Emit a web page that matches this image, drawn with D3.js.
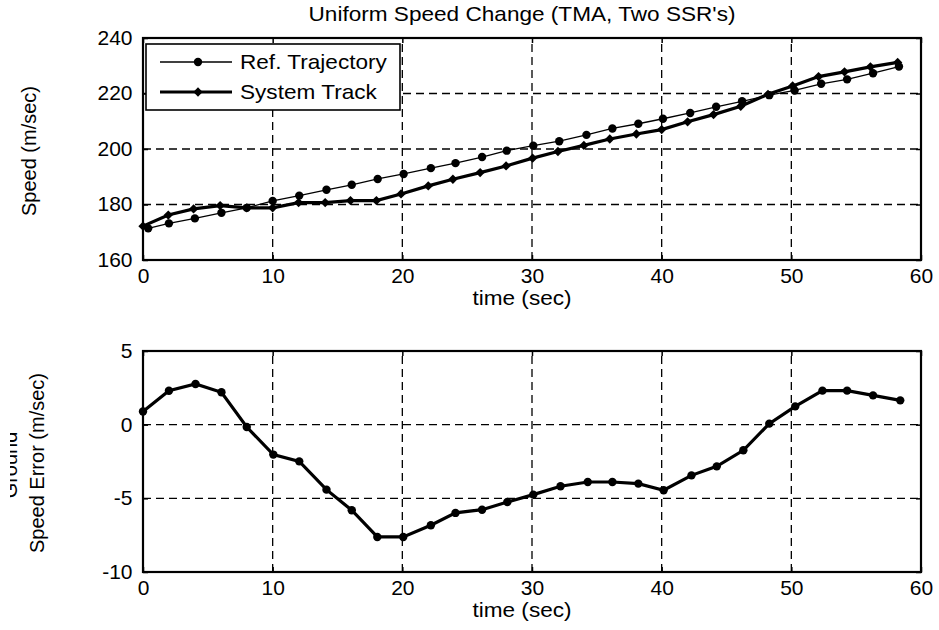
<!DOCTYPE html>
<meta charset="utf-8">
<style>
body { margin: 0; background: #fff; }
text { font-family: 'Liberation Sans', Arial, sans-serif; font-size: 20px; fill: #000; }
.axis path { display: none; }
.axis line { stroke: #000; stroke-width: 1.5px; }
.grid line { stroke: #000; stroke-width: 1.3px; stroke-dasharray: 8,5; }
.frame { fill: none; stroke: #000; stroke-width: 2.2px; }
</style>
<svg width="939" height="630"></svg>
<script src="https://cdn.jsdelivr.net/npm/d3@7"></script>
<script>
// values
var timeTicks = [0, 10, 20, 30, 40, 50, 60];
var speedTicks = [160, 180, 200, 220, 240];
var errorTicks = [-10, -5, 0, 5];

var refTime  = [0.4, 2.0, 4.0, 6.05, 8.0, 10.0, 12.05, 14.15, 16.1, 18.1, 20.1, 22.2, 24.1, 26.15, 28.05,
                30.1, 32.1, 34.2, 36.2, 38.2, 40.1, 42.2, 44.2, 46.2, 48.3, 50.25, 52.3, 54.3, 56.3, 58.3];
var refSpeed = [171.4, 173.2, 175.0, 177.0, 178.8, 181.3, 183.2, 185.3, 187.1, 189.2, 191.0, 193.1, 194.9, 197.1, 199.4,
                201.2, 202.8, 205.1, 207.4, 209.1, 210.9, 213.0, 215.2, 217.2, 219.4, 221.1, 223.5, 225.1, 227.3, 229.7];

var sysTime  = [0, 1.95, 3.9, 5.95, 8.0, 10.0, 12.0, 14.05, 16.0, 18.0, 19.9, 22.0, 23.9, 26.0, 28.0,
                30.05, 32.0, 34.0, 36.0, 38.05, 40.0, 42.0, 44.0, 46.1, 48.2, 50.1, 52.1, 54.1, 56.1, 58.2];
var sysSpeed = [172.2, 176.2, 178.4, 179.6, 178.8, 178.8, 180.7, 180.7, 181.4, 181.4, 183.8, 186.7, 189.1, 191.5, 193.9,
                196.7, 199.1, 201.3, 203.6, 205.4, 207.0, 209.8, 212.4, 215.4, 219.7, 222.7, 226.1, 227.8, 229.6, 231.2];

var errTime  = [0, 2.0, 4.05, 6.05, 8.0, 10.05, 12.05, 14.15, 16.1, 18.07, 20.07, 22.2, 24.1, 26.15, 28.1,
                30.1, 32.2, 34.3, 36.2, 38.2, 40.15, 42.3, 44.25, 46.3, 48.3, 50.3, 52.4, 54.3, 56.3, 58.4];
var errValue = [0.9, 2.3, 2.76, 2.2, -0.16, -2.03, -2.49, -4.41, -5.81, -7.62, -7.62, -6.83, -5.99, -5.77, -5.25,
                -4.75, -4.18, -3.89, -3.89, -4.0, -4.45, -3.44, -2.83, -1.74, 0.07, 1.24, 2.31, 2.31, 1.99, 1.65];

var svg = d3.select("svg");

var x = d3.scaleLinear().domain([0, 60]).range([143, 921]);
var yTop = d3.scaleLinear().domain([160, 240]).range([260, 38]);
var yBot = d3.scaleLinear().domain([-10, 5]).range([572, 351]);

var plain = function(d) { return String(d); };  // keep "-5" with a hyphen, as in the picture

function zip(xs, ys) { return xs.map(function(t, i) { return [t, ys[i]]; }); }

function panel(y, yTicks) {
  var g = svg.append("g");
  var x0 = x.range()[0], x1 = x.range()[1], y0 = y.range()[0], y1 = y.range()[1];

  // dashed grid
  var grid = g.append("g").attr("class", "grid");
  grid.selectAll(".v").data(timeTicks.slice(1, -1)).enter().append("line")
      .attr("x1", x).attr("x2", x).attr("y1", y0).attr("y2", y1);
  grid.selectAll(".h").data(yTicks.slice(1, -1)).enter().append("line")
      .attr("x1", x0).attr("x2", x1).attr("y1", y).attr("y2", y);

  // ticks pointing inward (MATLAB style)
  g.append("g").attr("class", "axis").attr("transform", "translate(0," + y0 + ")")
      .call(d3.axisBottom(x).tickValues(timeTicks).tickSize(-5).tickPadding(9).tickFormat(plain))
      .selectAll("text").attr("transform", "scale(1.05,1)");
  g.append("g").attr("class", "axis").attr("transform", "translate(0," + y1 + ")")
      .call(d3.axisTop(x).tickValues(timeTicks).tickSize(-5).tickFormat(""));
  g.append("g").attr("class", "axis").attr("transform", "translate(" + x0 + ",0)")
      .call(d3.axisLeft(y).tickValues(yTicks).tickSize(-5).tickPadding(10).tickFormat(plain))
      .selectAll("text").attr("transform", "scale(1.05,1)");
  g.append("g").attr("class", "axis").attr("transform", "translate(" + x1 + ",0)")
      .call(d3.axisRight(y).tickValues(yTicks).tickSize(-5).tickFormat(""));
  g.selectAll(".axis").attr("font-size", 20).attr("font-family", null);

  g.append("rect").attr("class", "frame")
      .attr("x", x0).attr("y", y1).attr("width", x1 - x0).attr("height", y0 - y1);

  g.append("text")
      .attr("text-anchor", "middle")
      .attr("transform", "translate(" + ((x0 + x1) / 2 - 10) + "," + (y0 + 45) + ") scale(1.13,1)")
      .text("time (sec)");
  return g;
}

var topPanel = panel(yTop, speedTicks);
var botPanel = panel(yBot, errorTicks);

var lineTop = d3.line().x(function(d) { return x(d[0]); }).y(function(d) { return yTop(d[1]); });
var lineBot = d3.line().x(function(d) { return x(d[0]); }).y(function(d) { return yBot(d[1]); });

var refData = zip(refTime, refSpeed);
var sysData = zip(sysTime, sysSpeed);
var errData = zip(errTime, errValue);

// Ref. Trajectory: thin line, dots
topPanel.append("path").datum(refData)
    .attr("fill", "none").attr("stroke", "#000").attr("stroke-width", 1.3).attr("d", lineTop);
topPanel.selectAll(".ref").data(refData).enter().append("circle")
    .attr("cx", function(d) { return x(d[0]); }).attr("cy", function(d) { return yTop(d[1]); })
    .attr("r", 4.2).attr("fill", "#000");

// System Track: thick line, small square diamonds
var diamond = d3.symbol().type(d3.symbolDiamond2).size(55);
topPanel.append("path").datum(sysData)
    .attr("fill", "none").attr("stroke", "#000").attr("stroke-width", 3.2).attr("d", lineTop);
topPanel.selectAll(".sys").data(sysData).enter().append("path")
    .attr("transform", function(d) { return "translate(" + x(d[0]) + "," + yTop(d[1]) + ")"; })
    .attr("d", diamond).attr("fill", "#000");

// error panel
botPanel.append("path").datum(errData)
    .attr("fill", "none").attr("stroke", "#000").attr("stroke-width", 3.2).attr("d", lineBot);
botPanel.selectAll(".err").data(errData).enter().append("circle")
    .attr("cx", function(d) { return x(d[0]); }).attr("cy", function(d) { return yBot(d[1]); })
    .attr("r", 4.2).attr("fill", "#000");

// legend
var legend = svg.append("g");
legend.append("rect").attr("x", 146).attr("y", 44).attr("width", 254).attr("height", 66)
    .attr("fill", "#fff").attr("stroke", "#000").attr("stroke-width", 1.6);
var legItems = [
  { name: "Ref. Trajectory", width: 1.3, sym: "circle", y: 62 },
  { name: "System Track", width: 3.2, sym: "diamond", y: 92 }
];
legItems.forEach(function(it) {
  legend.append("line").attr("x1", 160).attr("x2", 232).attr("y1", it.y).attr("y2", it.y)
      .attr("stroke", "#000").attr("stroke-width", it.width);
  if (it.sym === "circle") {
    legend.append("circle").attr("cx", 198).attr("cy", it.y).attr("r", 4.2).attr("fill", "#000");
  } else {
    legend.append("path").attr("transform", "translate(198," + it.y + ")").attr("d", diamond).attr("fill", "#000");
  }
  legend.append("text").attr("transform", "translate(240," + (it.y + 7) + ") scale(1.13,1)").text(it.name);
});

// title
svg.append("text").attr("text-anchor", "middle")
    .attr("transform", "translate(522,21) scale(1.13,1)")
    .text("Uniform Speed Change (TMA, Two SSR's)");

// y labels
svg.append("text").attr("text-anchor", "middle")
    .attr("transform", "translate(36,151) rotate(-90)")
    .text("Speed (m/sec)");

svg.append("clipPath").attr("id", "lblclip")
  .append("rect").attr("x", 10).attr("y", 340).attr("width", 60).attr("height", 250);
var yl = svg.append("g").attr("clip-path", "url(#lblclip)");
yl.append("text").attr("text-anchor", "middle")
    .attr("transform", "translate(17,465) rotate(-90)")
    .text("Ground");
yl.append("text").attr("text-anchor", "middle")
    .attr("transform", "translate(44,463) rotate(-90)")
    .text("Speed Error (m/sec)");
</script>
